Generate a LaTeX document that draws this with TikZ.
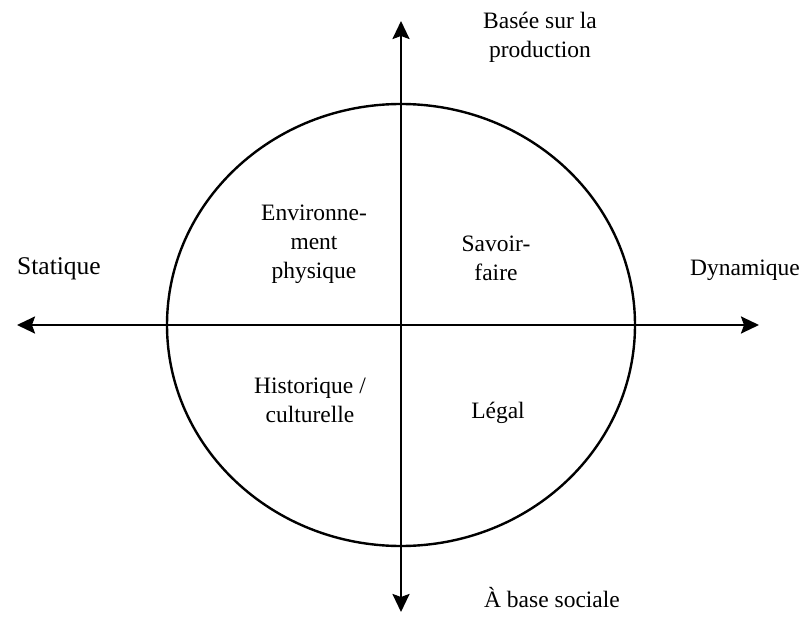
\documentclass[tikz,border=0pt]{standalone}
\usepackage{fontspec}
\setmainfont{Liberation Serif}
\usetikzlibrary{arrows.meta}
\begin{document}
\begin{tikzpicture}[x=1pt,y=-1pt,
  axis/.style={line width=2.4pt,-{Stealth[length=18pt,width=17pt,inset=3pt]}},
  lbl/.style={font=\fontsize{23.5}{29}\selectfont,align=center,inner sep=0pt},
  circ/.style={line width=2.4pt}]
\useasboundingbox (0,0) rectangle (804,626);
\coordinate (c) at (401,325);
\draw[circ] (c) ellipse [x radius=234, y radius=221];
\coordinate (l) at (17,325);
\coordinate (r) at (759,325);
\coordinate (t) at (401,21);
\coordinate (b) at (401,612);
\draw[axis] (c) -- (l);
\draw[axis] (c) -- (r);
\draw[axis] (c) -- (t);
\draw[axis] (c) -- (b);
\node[lbl] (prod) at (540,37) {Basée sur la\\production};
\node[lbl,font=\fontsize{25.5}{29}\selectfont] (stat) at (59,269) {Statique};
\node[lbl] (dyn) at (745,270) {Dynamique};
\node[lbl] (env) at (314,244) {Environne-\\ment\\physique};
\node[lbl] (sav) at (496,258) {Savoir-\\faire};
\node[lbl] (hist) at (310,400) {Historique /\\culturelle};
\node[lbl] (leg) at (498,413) {Légal};
\node[lbl] (soc) at (552,598) {À base sociale};
\end{tikzpicture}
\end{document}
